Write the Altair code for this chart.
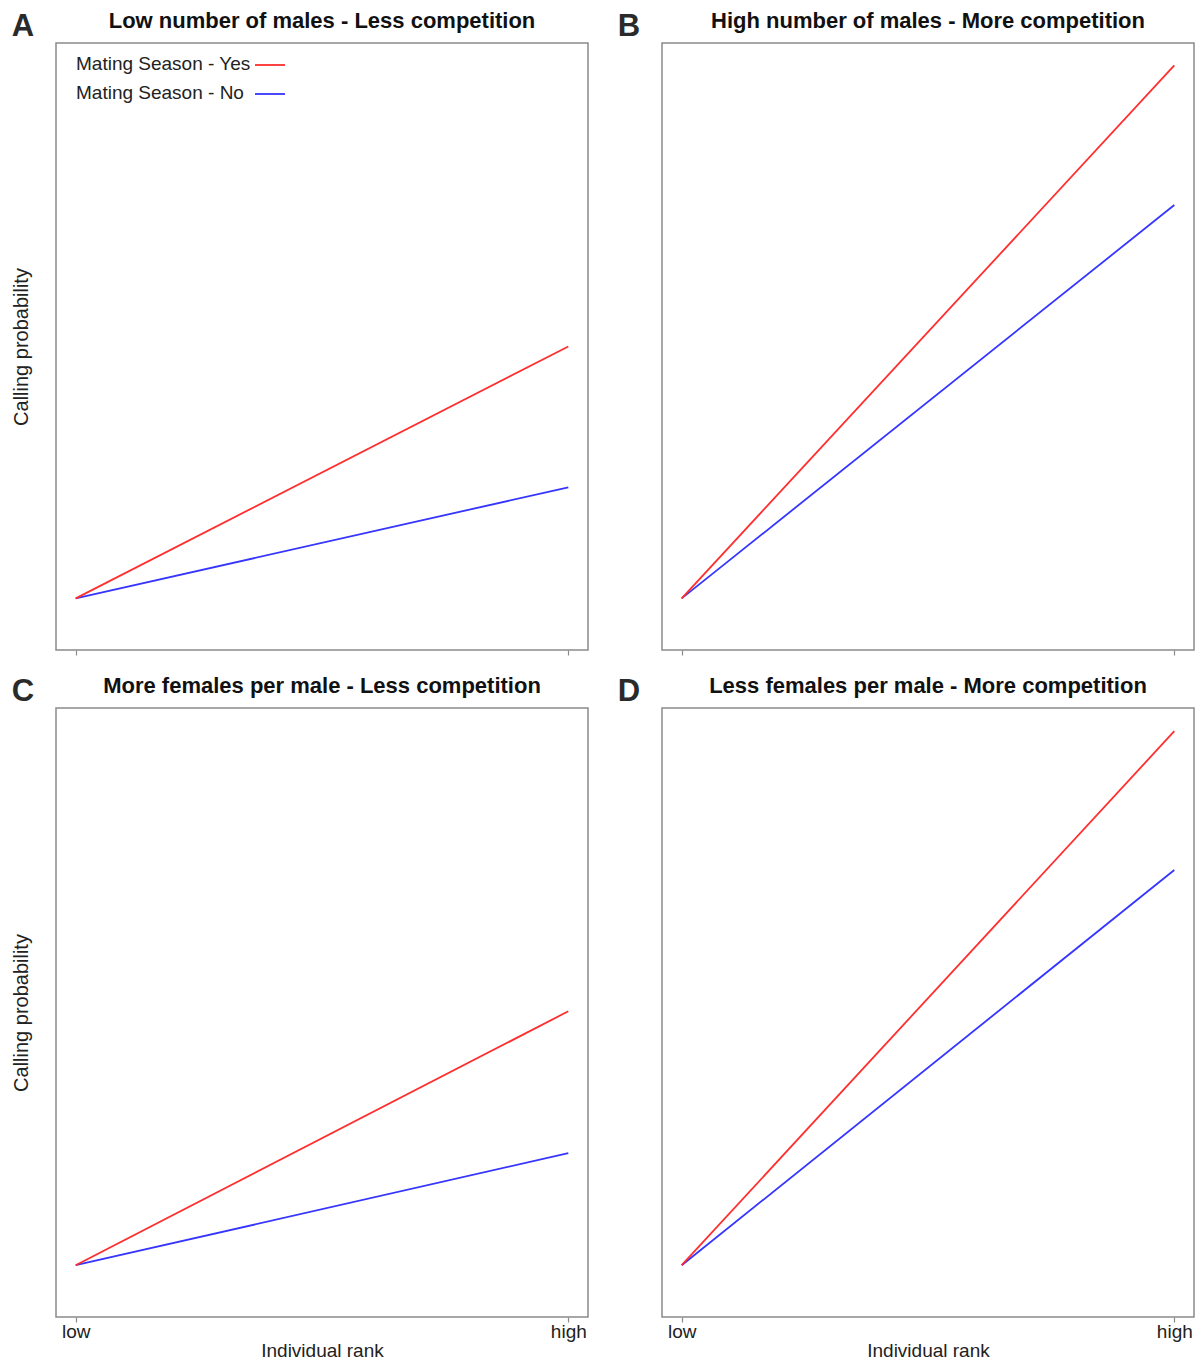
import altair as alt
import pandas as pd

FONT = "Liberation Sans"

rank_pos = [0, 1]
rank_labels = ["low", "high"]
panel_letters = ["A", "B", "C", "D"]
panel_titles = [
    "Low number of males - Less competition",
    "High number of males - More competition",
    "More females per male - Less competition",
    "Less females per male - More competition",
]
yes_values = [[0.085, 0.500], [0.085, 0.963], [0.085, 0.502], [0.085, 0.962]]
no_values = [[0.085, 0.268], [0.085, 0.733], [0.085, 0.269], [0.085, 0.734]]
series_names = ["Mating Season - Yes", "Mating Season - No"]
series_colors = ["#FF2E2E", "#3535FF"]

x_scale = alt.Scale(domain=[-0.04, 1.04], nice=False, zero=False)
y_scale = alt.Scale(domain=[0, 1], nice=False, zero=False)

PW = 532
PH_TOP = 607
PH_BOTTOM = 609


def panel(i):
    rows = []
    for k, v in enumerate(no_values[i]):
        rows.append({"rank": rank_pos[k], "p": v, "series": series_names[1]})
    for k, v in enumerate(yes_values[i]):
        rows.append({"rank": rank_pos[k], "p": v, "series": series_names[0]})
    df = pd.DataFrame(rows)
    bottom = i >= 2
    left = i % 2 == 0
    label_expr = "datum.value == 0 ? '" + rank_labels[0] + "' : '" + rank_labels[1] + "'"
    x_axis = alt.Axis(
        values=rank_pos,
        labelExpr=label_expr,
        labels=bottom,
        title="Individual rank" if bottom else None,
        domain=False,
        grid=False,
        ticks=True,
        tickColor="#8a8a8a",
        tickSize=5,
        tickWidth=1.2,
        labelFontSize=19,
        labelFont=FONT,
        labelColor="#222222",
        labelPadding=0,
        titleFontSize=19,
        titleFont=FONT,
        titleFontWeight="normal",
        titleColor="#222222",
        titlePadding=0,
    )
    y_axis = alt.Axis(
        labels=False,
        ticks=False,
        domain=False,
        grid=False,
        title="Calling probability" if left else None,
        titleFontSize=20,
        titleFont=FONT,
        titleFontWeight="normal",
        titleColor="#222222",
        titlePadding=25,
    )
    layers = []
    for s in [1, 0]:
        sub = df[df["series"] == series_names[s]]
        layers.append(
            alt.Chart(sub)
            .mark_line(color=series_colors[s], strokeWidth=1.8)
            .encode(
                x=alt.X("rank:Q", scale=x_scale, axis=x_axis),
                y=alt.Y("p:Q", scale=y_scale, axis=y_axis),
            )
        )
    letter = alt.Chart(pd.DataFrame({"t": [panel_letters[i]]})).mark_text(
        fontSize=31, fontWeight="bold", font=FONT, color="#2a2a2a",
        align="center", baseline="alphabetic"
    ).encode(x=alt.value(-33), y=alt.value(-7), text="t:N")
    layers.append(letter)
    ttl = alt.Chart(pd.DataFrame({"t": [panel_titles[i]]})).mark_text(
        fontSize=22, fontWeight="bold", font=FONT, color="#111111",
        align="center", baseline="alphabetic"
    ).encode(x=alt.value(PW / 2), y=alt.value(-15), text="t:N")
    layers.append(ttl)
    if i == 0:
        for s in range(2):
            ly = 21 + 29 * s
            leg_df = pd.DataFrame({"t": [series_names[s]]})
            layers.append(
                alt.Chart(leg_df).mark_text(
                    fontSize=19, font=FONT, color="#222222", align="left", baseline="middle"
                ).encode(x=alt.value(20), y=alt.value(ly), text="t:N")
            )
            layers.append(
                alt.Chart(leg_df).mark_rule(color=series_colors[s], strokeWidth=1.8)
                .encode(x=alt.value(199), x2=alt.value(229), y=alt.value(ly + 1))
            )
    return alt.layer(*layers).properties(width=PW, height=PH_TOP if i < 2 else PH_BOTTOM)


chart = alt.concat(
    *[panel(i) for i in range(4)],
    columns=2,
    spacing={"row": 58, "column": 74},
    bounds="flush",
).configure_view(stroke="#8a8a8a", strokeWidth=1.5).properties(
    padding={"left": 2, "top": 1, "right": 0, "bottom": 0}, background="white"
)

chart.save("out.html", embed_options={"renderer": "svg", "actions": False})
